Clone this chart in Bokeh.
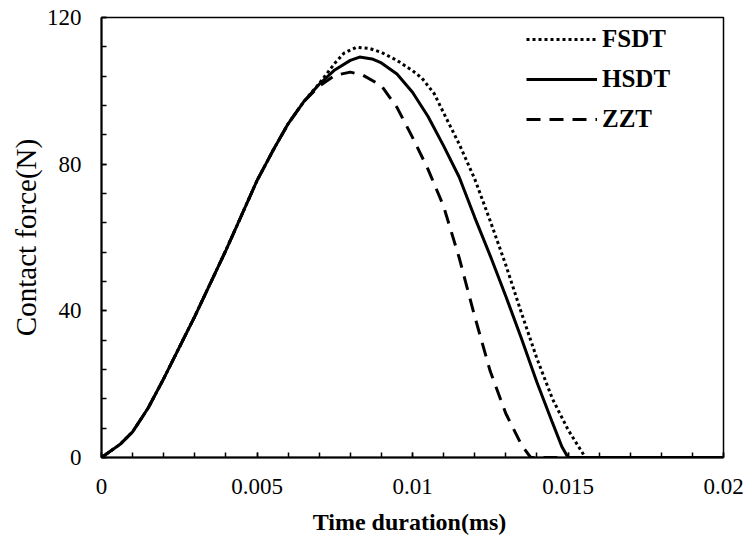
from bokeh.plotting import figure
from bokeh.models import Range1d, FixedTicker, NumeralTickFormatter, Legend, LegendItem
from bokeh.embed import file_html
from bokeh.resources import INLINE

# ---- data ----
t_hsdt = [0, 0.0003, 0.0006, 0.001, 0.0015, 0.002, 0.0025, 0.003, 0.0035, 0.004, 0.0045,
          0.005, 0.0055, 0.006, 0.0065, 0.007, 0.0075, 0.008, 0.0083, 0.0087, 0.009,
          0.0095, 0.01, 0.0105, 0.011, 0.0115, 0.012, 0.0125, 0.013, 0.0135, 0.014,
          0.0145, 0.0148, 0.015, 0.02]
f_hsdt = [0, 1.8, 3.6, 7, 13.5, 21.5, 30, 38.5, 47.5, 56.5, 66,
          75.5, 83.5, 91, 97, 101.8, 105.7, 108.3, 109.2, 108.7, 107.6,
          104.6, 99.6, 93, 85, 76.5, 65.5, 55, 44, 32.5, 20.5,
          9.5, 3, 0, 0]

t_fsdt = [0, 0.0003, 0.0006, 0.001, 0.0015, 0.002, 0.0025, 0.003, 0.0035, 0.004, 0.0045,
          0.005, 0.0055, 0.006, 0.0065, 0.007, 0.0075, 0.0078, 0.0082, 0.0086, 0.009,
          0.0095, 0.01, 0.0103, 0.0107, 0.011, 0.0115, 0.012, 0.0125, 0.013, 0.0135,
          0.014, 0.0145, 0.015, 0.0153, 0.01556, 0.02]
f_fsdt = [0, 1.8, 3.6, 7, 13.5, 21.5, 30, 38.5, 47.5, 56.5, 66,
          75.5, 83.5, 91, 97, 102, 107.5, 110.3, 111.9, 111.6, 110.5,
          108.3, 105.5, 103.5, 99.2, 94, 85.5, 76, 64.5, 52.5, 39.5,
          27, 16, 7.6, 3.5, 0, 0]

t_zzt = [0, 0.0003, 0.0006, 0.001, 0.0015, 0.002, 0.0025, 0.003, 0.0035, 0.004, 0.0045,
         0.005, 0.0055, 0.006, 0.0065, 0.007, 0.0075, 0.008, 0.0084, 0.009, 0.0095,
         0.01, 0.0105, 0.011, 0.0115, 0.012, 0.0125, 0.013, 0.0135, 0.0138, 0.02]
f_zzt = [0, 1.8, 3.6, 7, 13.5, 21.5, 30, 38.5, 47.5, 56.5, 66,
         75.5, 83.5, 91, 97, 101.3, 104.2, 105.1, 104.3, 101.4, 95.5,
         87.3, 78.6, 68.5, 54.5, 38.5, 23.5, 12, 3.5, 0, 0]

x_major = [0, 0.005, 0.01, 0.015, 0.02]
x_minor = [i * 0.001 for i in range(21)]
y_major = [0, 40, 80, 120]
y_minor = [i * 8 for i in range(16)]

series_names = ["FSDT", "HSDT", "ZZT"]

FONT = "Liberation Serif"
FS = "23px"

p = figure(frame_width=622, frame_height=440,
           x_range=Range1d(0, 0.02), y_range=Range1d(0, 120),
           output_backend="svg", toolbar_location=None,
           min_border_left=101, min_border_right=24, min_border_top=17, min_border_bottom=89,
           background_fill_color="white", border_fill_color="white")
p.grid.visible = False
p.outline_line_color = "black"
p.outline_line_width = 1.5

r_f = p.line(t_fsdt, f_fsdt, line_color="black", line_width=3, line_dash="3 3")
r_h = p.line(t_hsdt, f_hsdt, line_color="black", line_width=3)
r_z = p.line(t_zzt, f_zzt, line_color="black", line_width=3, line_dash="14 9")

for ax in (p.xaxis[0], p.yaxis[0]):
    ax.axis_line_width = 2
    ax.axis_line_color = "black"
    ax.major_tick_in = 5
    ax.major_tick_out = 0
    ax.minor_tick_in = 5
    ax.minor_tick_out = 0
    ax.major_tick_line_width = 1.5
    ax.minor_tick_line_width = 1.5
    ax.major_label_text_font = FONT
    ax.major_label_text_font_size = FS
    ax.major_label_text_color = "black"
    ax.axis_label_text_font = FONT
    ax.axis_label_text_color = "black"

p.xaxis[0].ticker = FixedTicker(ticks=x_major, minor_ticks=x_minor)
p.yaxis[0].ticker = FixedTicker(ticks=y_major, minor_ticks=y_minor)
p.xaxis[0].formatter = NumeralTickFormatter(format="0.[000]")
p.yaxis[0].formatter = NumeralTickFormatter(format="0")
p.xaxis[0].axis_label = "Time  duration(ms)"
p.yaxis[0].axis_label = "Contact force(N)"
p.xaxis[0].axis_label_text_font_size = "24px"
p.xaxis[0].axis_label_text_font_style = "bold"
p.yaxis[0].axis_label_text_font_size = "29px"
p.yaxis[0].axis_label_text_font_style = "normal"
p.xaxis[0].major_label_standoff = 21
p.yaxis[0].major_label_standoff = 20
p.xaxis[0].axis_label_standoff = 12
p.yaxis[0].axis_label_standoff = 2

legend = Legend(items=[LegendItem(label=series_names[0], renderers=[r_f]),
                       LegendItem(label=series_names[1], renderers=[r_h]),
                       LegendItem(label=series_names[2], renderers=[r_z])],
                location=(425, 324), padding=0, margin=0, spacing=12,
                glyph_width=71, glyph_height=20, label_height=20, label_standoff=5,
                label_text_font=FONT, label_text_font_size="25px", label_text_font_style="bold",
                label_text_color="black",
                background_fill_alpha=0, border_line_alpha=0)
p.add_layout(legend)

open("out.html", "w").write(file_html(p, INLINE))
